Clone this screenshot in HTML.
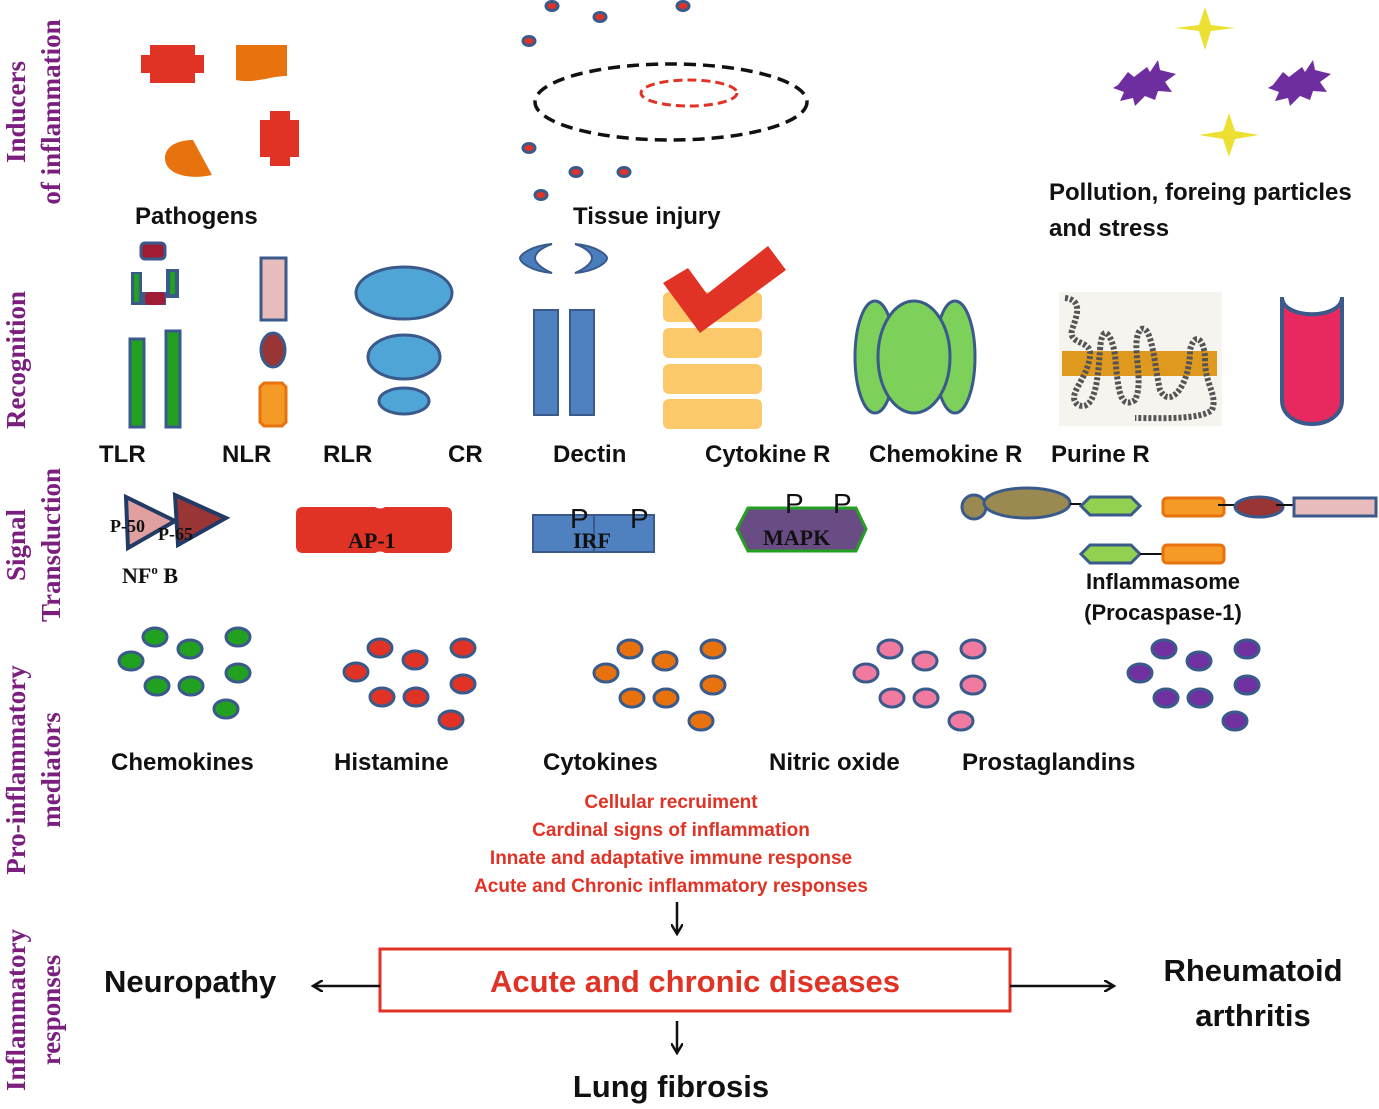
<!DOCTYPE html>
<html><head><meta charset="utf-8"><style>
html,body{margin:0;padding:0;background:#fff;}
svg{display:block;}
.l{font-family:"Liberation Sans",sans-serif;font-weight:bold;font-size:24px;fill:#111;}
.v{font-family:"Liberation Serif",serif;font-weight:bold;font-size:27px;fill:#7b1f7e;}
.r{font-family:"Liberation Sans",sans-serif;font-weight:bold;font-size:19px;fill:#e03325;}
.s{font-family:"Liberation Serif",serif;font-weight:bold;fill:#111;}
.big{font-size:31px;}
.mid{font-size:22px;}
</style></head><body>
<svg width="1379" height="1109" viewBox="0 0 1379 1109" xmlns="http://www.w3.org/2000/svg">
<defs>
<g id="dots" stroke="#3a5a8c" stroke-width="3">
<ellipse cx="24" cy="0" rx="12" ry="9"/><ellipse cx="0" cy="24" rx="12" ry="9"/>
<ellipse cx="59" cy="12" rx="12" ry="9"/><ellipse cx="107" cy="0" rx="12" ry="9"/>
<ellipse cx="107" cy="36" rx="12" ry="9"/><ellipse cx="26" cy="49" rx="12" ry="9"/>
<ellipse cx="60" cy="49" rx="12" ry="9"/><ellipse cx="95" cy="72" rx="12" ry="9"/>
</g>
<marker id="ah" markerWidth="12" markerHeight="12" refX="10" refY="6" orient="auto" markerUnits="userSpaceOnUse">
<path d="M0,0 L10,6 L0,12" fill="none" stroke="#111" stroke-width="2.5"/></marker>
</defs>

<text class="v" transform="translate(25,112) rotate(-90)" text-anchor="middle">Inducers</text>
<text class="v" transform="translate(60,112) rotate(-90)" text-anchor="middle">of inflammation</text>
<text class="v" transform="translate(25,360) rotate(-90)" text-anchor="middle">Recognition</text>
<text class="v" transform="translate(25,545) rotate(-90)" text-anchor="middle">Signal</text>
<text class="v" transform="translate(60,545) rotate(-90)" text-anchor="middle">Transduction</text>
<text class="v" transform="translate(25,770) rotate(-90)" text-anchor="middle">Pro-inflammatory</text>
<text class="v" transform="translate(60,770) rotate(-90)" text-anchor="middle">mediators</text>
<text class="v" transform="translate(25,1010) rotate(-90)" text-anchor="middle">Inflammatory</text>
<text class="v" transform="translate(60,1010) rotate(-90)" text-anchor="middle">responses</text>

<path d="M150,45 H195 V55 H204 V73 H195 V83 H150 V73 H141 V55 H150 Z" fill="#e03325"/>
<path d="M236,45 H287 V76 C270,76 255,84 236,80 Z" fill="#e8720e"/>
<path d="M270,111 H290 V120 H299 V157 H290 V166 H270 V157 H260 V120 H270 Z" fill="#e03325"/>
<path d="M193,140 L212,175 C190,180 165,175 165,158 C165,145 180,140 193,140 Z" fill="#e8720e"/>
<text class="l" x="135" y="224">Pathogens</text>

<ellipse cx="671" cy="102" rx="136" ry="38" fill="none" stroke="#111" stroke-width="3.5" stroke-dasharray="12,7"/>
<ellipse cx="689" cy="93" rx="48" ry="13" fill="none" stroke="#e03325" stroke-width="3" stroke-dasharray="9,5"/>
<g fill="#e03325" stroke="#3a5a8c" stroke-width="3">
<ellipse cx="552" cy="6" rx="6" ry="4.5"/><ellipse cx="600" cy="17" rx="6" ry="4.5"/><ellipse cx="683" cy="6" rx="6" ry="4.5"/>
<ellipse cx="529" cy="41" rx="6" ry="4.5"/><ellipse cx="529" cy="148" rx="6" ry="4.5"/><ellipse cx="576" cy="172" rx="6" ry="4.5"/>
<ellipse cx="624" cy="172" rx="6" ry="4.5"/><ellipse cx="541" cy="195" rx="6" ry="4.5"/>
</g>
<text class="l" x="573" y="224">Tissue injury</text>

<g fill="#ece033">
<path d="M1205,7 L1211,25 L1235,28 L1211,31 L1205,50 L1199,31 L1175,28 L1199,25 Z"/>
<path d="M1229,113 L1235,131 L1259,135 L1235,139 L1229,157 L1223,139 L1199,135 L1223,131 Z"/>
</g>
<g fill="#6f2ea0">
<path d="M1118,85 L1128,72 L1134,77 L1147,67 L1150,72 L1158,60 L1160,70 L1176,74 L1165,82 L1172,92 L1158,91 L1155,100 L1145,96 L1135,106 L1133,98 L1120,101 L1124,92 L1113,88 Z"/>
<path d="M1273,85 L1283,72 L1289,77 L1302,67 L1305,72 L1313,60 L1315,70 L1331,74 L1320,82 L1327,92 L1313,91 L1310,100 L1300,96 L1290,106 L1288,98 L1275,101 L1279,92 L1268,88 Z"/>
</g>
<text class="l" x="1049" y="200">Pollution, foreing particles</text>
<text class="l" x="1049" y="236">and stress</text>

<rect x="141" y="243" width="24" height="16" rx="4" fill="#a01c35" stroke="#3a5a8c" stroke-width="3"/>
<path d="M131,272 H142 V292 H166 V305 H131 Z" fill="#3a5a8c"/>
<rect x="134" y="274" width="5" height="28" fill="#22a020"/>
<rect x="145" y="292" width="20" height="13" rx="4" fill="#a01c35"/>
<rect x="166" y="269" width="13" height="29" fill="#3a5a8c"/><rect x="170" y="272" width="5" height="22" fill="#22a020"/>
<rect x="130" y="339" width="14" height="88" fill="#22a020" stroke="#3a5a8c" stroke-width="3"/>
<rect x="166" y="331" width="14" height="96" fill="#22a020" stroke="#3a5a8c" stroke-width="3"/>
<rect x="261" y="258" width="25" height="62" fill="#e8bcbc" stroke="#3a5a8c" stroke-width="3"/>
<ellipse cx="273" cy="350" rx="12" ry="17" fill="#9a3535" stroke="#3a5a8c" stroke-width="3"/>
<path d="M264,383 H282 L286,387 V422 L282,426 H264 L260,422 V387 Z" fill="#f59a26" stroke="#e8720e" stroke-width="3"/>
<g fill="#4fa6d6" stroke="#3a5a8c" stroke-width="3">
<ellipse cx="404" cy="293" rx="48" ry="26"/><ellipse cx="404" cy="357" rx="36" ry="22"/><ellipse cx="404" cy="401" rx="25" ry="13"/>
</g>
<text class="l" x="99" y="462">TLR</text><text class="l" x="222" y="462">NLR</text>
<text class="l" x="323" y="462">RLR</text><text class="l" x="448" y="462">CR</text>
<path d="M552,244 C530,246 520,255 520,258 C520,262 530,271 552,273 C540,268 535,262 535,258 C535,254 540,248 552,244 Z" fill="#4a7dbd" stroke="#3a5a8c" stroke-width="2"/>
<path d="M575,244 C597,246 607,255 607,258 C607,262 597,271 575,273 C587,268 592,262 592,258 C592,254 587,248 575,244 Z" fill="#4a7dbd" stroke="#3a5a8c" stroke-width="2"/>
<rect x="534" y="310" width="24" height="105" fill="#4f81c0" stroke="#3a5a8c" stroke-width="2"/>
<rect x="570" y="310" width="24" height="105" fill="#4f81c0" stroke="#3a5a8c" stroke-width="2"/>
<text class="l" x="553" y="462">Dectin</text>
<g fill="#fbc96a"><rect x="663" y="292" width="99" height="30" rx="6"/><rect x="663" y="328" width="99" height="30" rx="6"/>
<rect x="663" y="364" width="99" height="30" rx="6"/><rect x="663" y="399" width="99" height="30" rx="6"/></g>
<path d="M663,283 L688,268 L707,294 L768,246 L786,270 L700,333 Z" fill="#e03325"/>
<text class="l" x="705" y="462">Cytokine R</text>
<g fill="#7dd05a" stroke="#3a5a8c" stroke-width="3">
<ellipse cx="875" cy="357" rx="20" ry="56"/><ellipse cx="955" cy="357" rx="20" ry="56"/><ellipse cx="914" cy="357" rx="36" ry="56"/>
</g>
<text class="l" x="869" y="462">Chemokine R</text>
<rect x="1059" y="292" width="163" height="134" fill="#f6f4ee"/>
<rect x="1062" y="351" width="155" height="25" fill="#e0991f"/>
<g fill="none" stroke="#555" stroke-width="6" stroke-dasharray="3,2">
<path d="M1065,298 C1085,300 1075,320 1072,330 C1068,345 1092,340 1090,355 C1088,380 1065,395 1078,405 C1095,412 1098,380 1100,350"/>
<path d="M1100,350 C1102,320 1112,335 1115,355 C1118,390 1120,410 1135,400 C1145,380 1130,345 1140,330 C1152,320 1155,370 1160,390 C1170,410 1190,385 1190,350 C1195,330 1205,340 1205,360 C1205,385 1218,395 1212,410 C1200,420 1160,418 1135,418"/>
</g>
<text class="l" x="1051" y="462">Purine R</text>
<path d="M1282,297 V400 C1282,432 1342,432 1342,400 V297 C1342,320 1282,320 1282,297 Z" fill="#e8295f" stroke="#3a5a8c" stroke-width="4"/>

<path d="M126,497 L175,521 L128,548 Z" fill="#e0a0a0" stroke="#223a66" stroke-width="4"/>
<path d="M175,495 L226,518 L178,545 Z" fill="#9a3535" stroke="#223a66" stroke-width="4"/>
<text class="s" x="110" y="532" style="font-size:18px">P-50</text>
<text class="s" x="158" y="540" style="font-size:18px">P-65</text>
<text class="s" x="122" y="583" style="font-size:22px">NF<tspan style="font-size:13px" dy="-9">o</tspan><tspan dy="9"> B</tspan></text>
<path d="M303,507 H375 Q380,510 385,507 H445 Q452,507 452,514 V546 Q452,553 445,553 H385 Q380,550 375,553 H303 Q296,553 296,546 V514 Q296,507 303,507 Z" fill="#e03325"/>
<text class="s" x="348" y="548" style="font-size:22px">AP-1</text>
<rect x="533" y="515" width="121" height="37" fill="#4f81c0" stroke="#3a5a8c" stroke-width="2"/>
<line x1="594" y1="515" x2="594" y2="552" stroke="#3a5a8c" stroke-width="2"/>
<text class="s" x="573" y="548" style="font-size:22px">IRF</text>
<text x="570" y="528" font-family="Liberation Sans,sans-serif" font-size="28" fill="#111">P</text>
<text x="630" y="528" font-family="Liberation Sans,sans-serif" font-size="28" fill="#111">P</text>
<path d="M748,508 H856 L866,529 L856,551 H748 L737,529 Z" fill="#6a4c85" stroke="#22a020" stroke-width="3"/>
<text class="s" x="763" y="545" style="font-size:22px">MAPK</text>
<text x="785" y="513" font-family="Liberation Sans,sans-serif" font-size="28" fill="#111">P</text>
<text x="833" y="513" font-family="Liberation Sans,sans-serif" font-size="28" fill="#111">P</text>
<circle cx="974" cy="507" r="12" fill="#9a8a52" stroke="#3a5a8c" stroke-width="3"/>
<ellipse cx="1027" cy="503" rx="43" ry="15" fill="#9a8a52" stroke="#3a5a8c" stroke-width="3"/>
<line x1="1070" y1="504" x2="1081" y2="504" stroke="#111" stroke-width="2"/>
<path d="M1090,497 H1131 L1140,506 L1131,515 H1090 L1081,506 Z" fill="#92d050" stroke="#3a5a8c" stroke-width="3"/>
<rect x="1163" y="498" width="61" height="18" rx="4" fill="#f59a26" stroke="#e8720e" stroke-width="3"/>
<line x1="1218" y1="505" x2="1235" y2="505" stroke="#111" stroke-width="2"/>
<ellipse cx="1259" cy="507" rx="24" ry="10" fill="#9a3535" stroke="#3a5a8c" stroke-width="3"/>
<line x1="1276" y1="505" x2="1295" y2="505" stroke="#111" stroke-width="2"/>
<rect x="1294" y="498" width="82" height="18" fill="#e8bcbc" stroke="#3a5a8c" stroke-width="3"/>
<path d="M1090,545 H1131 L1140,554 L1131,563 H1090 L1081,554 Z" fill="#92d050" stroke="#3a5a8c" stroke-width="3"/>
<line x1="1140" y1="554" x2="1163" y2="554" stroke="#111" stroke-width="2"/>
<rect x="1163" y="545" width="61" height="18" rx="4" fill="#f59a26" stroke="#e8720e" stroke-width="3"/>
<text class="l mid" x="1163" y="589" text-anchor="middle">Inflammasome</text>
<text class="l mid" x="1163" y="620" text-anchor="middle">(Procaspase-1)</text>

<use href="#dots" x="131" y="637" fill="#22a020"/>
<use href="#dots" x="356" y="648" fill="#e03325"/>
<use href="#dots" x="606" y="649" fill="#e8720e"/>
<use href="#dots" x="866" y="649" fill="#f07aa0"/>
<use href="#dots" x="1140" y="649" fill="#7030a0"/>
<text class="l" x="111" y="770">Chemokines</text>
<text class="l" x="334" y="770">Histamine</text>
<text class="l" x="543" y="770">Cytokines</text>
<text class="l" x="769" y="770">Nitric oxide</text>
<text class="l" x="962" y="770">Prostaglandins</text>
<text class="r" x="671" y="808" text-anchor="middle">Cellular recruiment</text>
<text class="r" x="671" y="836" text-anchor="middle">Cardinal signs of inflammation</text>
<text class="r" x="671" y="864" text-anchor="middle">Innate and adaptative immune response</text>
<text class="r" x="671" y="892" text-anchor="middle">Acute and Chronic inflammatory responses</text>

<line x1="677" y1="902" x2="677" y2="934" stroke="#111" stroke-width="2.5" marker-end="url(#ah)"/>
<rect x="380" y="949" width="630" height="62" fill="#fff" stroke="#e03325" stroke-width="3"/>
<text class="r big" x="695" y="992" text-anchor="middle">Acute and chronic diseases</text>
<line x1="380" y1="986" x2="313" y2="986" stroke="#111" stroke-width="2.5" marker-end="url(#ah)"/>
<line x1="1010" y1="986" x2="1114" y2="986" stroke="#111" stroke-width="2.5" marker-end="url(#ah)"/>
<line x1="677" y1="1021" x2="677" y2="1053" stroke="#111" stroke-width="2.5" marker-end="url(#ah)"/>
<text class="l big" x="104" y="992">Neuropathy</text>
<text class="l big" x="1253" y="981" text-anchor="middle">Rheumatoid</text>
<text class="l big" x="1253" y="1026" text-anchor="middle">arthritis</text>
<text class="l big" x="671" y="1097" text-anchor="middle">Lung fibrosis</text>
</svg>
</body></html>
